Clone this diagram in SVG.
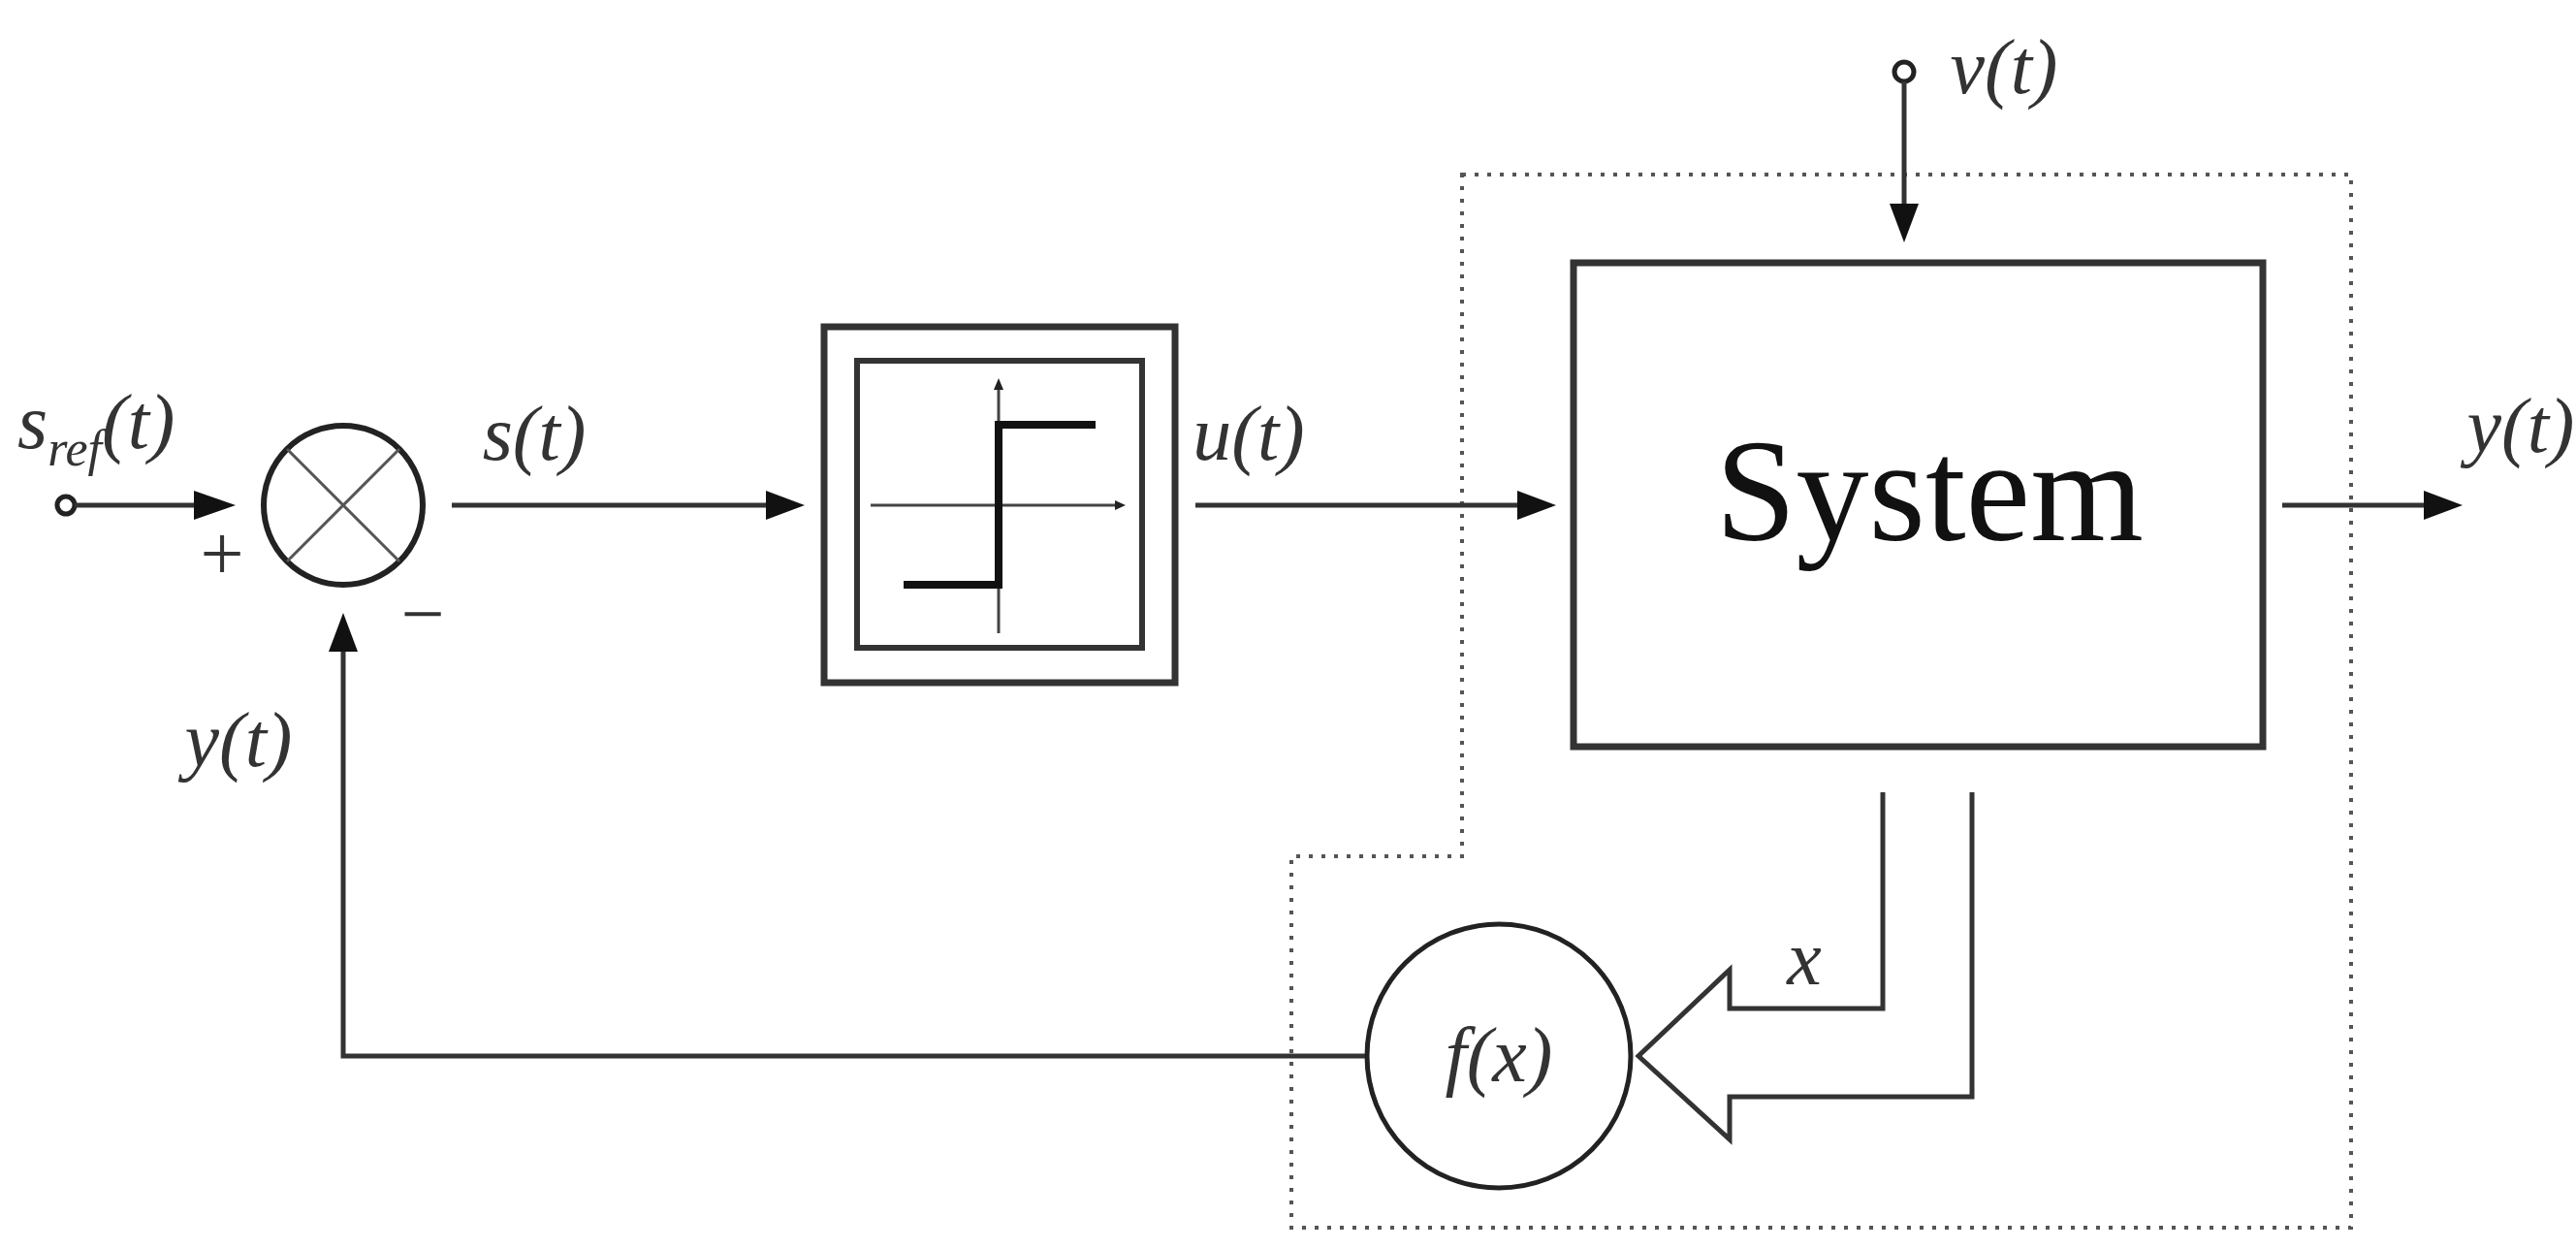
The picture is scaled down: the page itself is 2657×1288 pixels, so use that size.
<svg xmlns="http://www.w3.org/2000/svg" width="2657" height="1288" viewBox="0 0 2657 1288">
<style>
.l{fill:none;stroke:#333;stroke-width:5}
.t{font-family:"Liberation Serif",serif;font-style:italic;font-size:80px;fill:#333}
.n{font-family:"Liberation Serif",serif;font-size:80px;fill:#333}
</style>
<defs>
<marker id="a" viewBox="0 0 10 10" refX="10" refY="5" markerWidth="8" markerHeight="7" markerUnits="userSpaceOnUse" orient="auto" style="overflow:visible"><path d="M0,0 L10,5 L0,10 z" fill="#111" transform="scale(4)" /></marker>
<marker id="s" viewBox="0 0 10 10" refX="10" refY="5" markerWidth="14" markerHeight="10" markerUnits="userSpaceOnUse" orient="auto"><path d="M0,0 L10,5 L0,10 z" fill="#333"/></marker>
</defs>
<rect width="2657" height="1288" fill="#fff"/>
<g id="boundary"><path d="M1508,180 H2425 V1266 H1332 V883 H1508 Z" fill="none" stroke="#555" stroke-width="4" stroke-dasharray="4,9"/></g>
<g id="connectors">
<circle cx="68" cy="521" r="9" fill="#fff" stroke="#222" stroke-width="5"/>
<path class="l" d="M77,521 H200"/><path d="M200,506 L243,521 L200,536 Z" fill="#111"/>
<path class="l" d="M466,521 H790"/><path d="M790,506 L830,521 L790,536 Z" fill="#111"/>
<path class="l" d="M1233,521 H1565"/><path d="M1565,506 L1605,521 L1565,536 Z" fill="#111"/>
<path class="l" d="M2354,521 H2500"/><path d="M2500,506 L2540,521 L2500,536 Z" fill="#111"/>
<circle cx="1964" cy="74" r="10" fill="#fff" stroke="#222" stroke-width="5"/>
<path class="l" d="M1964,84 V212"/><path d="M1949,210 L1964,250 L1979,210 Z" fill="#111"/>
<path class="l" d="M1409,1089 H354 V672"/><path d="M339,672 L354,632 L369,672 Z" fill="#111"/>
<path class="l" d="M1942,817 V1040 H1784 V1000 L1690,1089 L1784,1175 V1131 H2034 V817" stroke-width="4"/>
</g>
<g id="sum"><circle cx="354" cy="521" r="82" fill="#fff" stroke="#222" stroke-width="6"/>
<path d="M296,463 L412,579 M412,463 L296,579" stroke="#555" stroke-width="3"/></g>
<g id="relay">
<rect x="850" y="337" width="362" height="367" fill="none" stroke="#333" stroke-width="7"/>
<rect x="884" y="372" width="294" height="296" fill="none" stroke="#333" stroke-width="6"/>
<path d="M898,521 H1155 M1030,653 V400" stroke="#444" stroke-width="3"/>
<path d="M1150,516 L1161,521 L1150,526 Z M1025,402 L1030,390 L1035,402 Z" fill="#222"/>
<path d="M932,603 H1030 V438 H1130" fill="none" stroke="#111" stroke-width="8"/>
</g>
<g id="system"><rect x="1623" y="271" width="711" height="499" fill="none" stroke="#333" stroke-width="7"/>
<text x="1990" y="557" text-anchor="middle" font-family="Liberation Serif,serif" font-size="150" fill="#111">System</text></g>
<g id="fx"><circle cx="1546" cy="1089" r="136" fill="#fff" stroke="#222" stroke-width="5"/>
<text class="t" x="1546" y="1115" text-anchor="middle">f(x)</text></g>
<g id="labels">
<text class="t" x="18" y="462">s<tspan font-size="52" dy="18">ref</tspan><tspan dy="-18">(t)</tspan></text>
<text class="n" x="229" y="598" text-anchor="middle" font-size="70" fill="#777">+</text>
<text class="n" x="436" y="660" text-anchor="middle" font-size="70">−</text>
<text class="t" x="551" y="474" text-anchor="middle">s(t)</text>
<text class="t" x="1288" y="474" text-anchor="middle">u(t)</text>
<text class="t" x="246" y="790" text-anchor="middle">y(t)</text>
<text class="t" x="2067" y="96" text-anchor="middle">v(t)</text>
<text class="t" x="2600" y="466" text-anchor="middle">y(t)</text>
<text class="t" x="1861" y="1015" text-anchor="middle">x</text>
</g>
</svg>
